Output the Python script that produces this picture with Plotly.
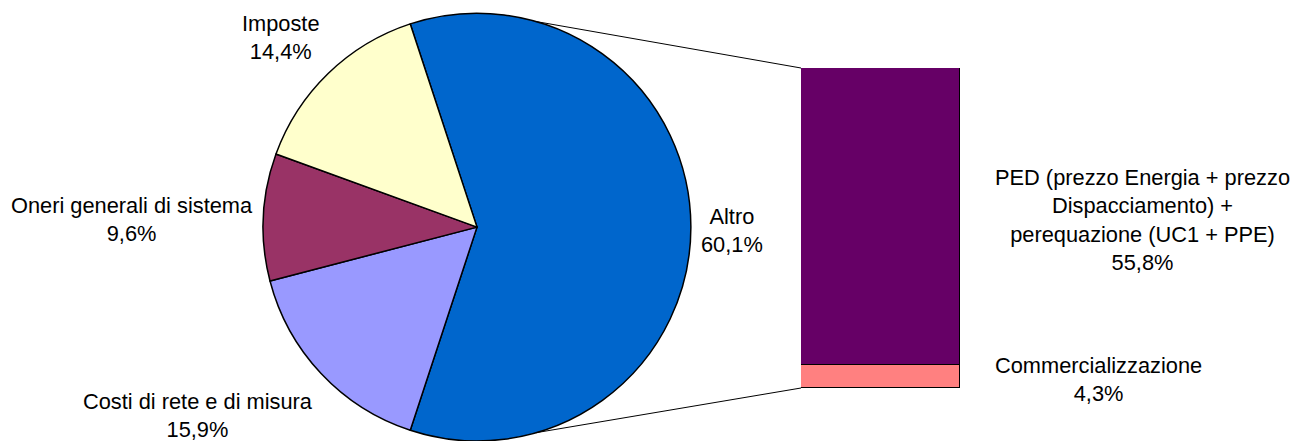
import math
import plotly.graph_objects as go

# ---- data ----
pie_labels = ["Altro", "Costi di rete e di misura", "Oneri generali di sistema", "Imposte"]
pie_values = [60.1, 15.9, 9.6, 14.4]
pie_colors = ["#0066CC", "#9999FF", "#993366", "#FFFFCC"]

bar_labels = ["Commercializzazione", "PED (prezzo Energia + prezzo<br>Dispacciamento) +<br>perequazione (UC1 + PPE)"]
bar_values = [4.3, 55.8]
bar_colors = ["#FF8080", "#660066"]

# ---- layout constants ----
W, H = 1292, 441
FONT = dict(family="Liberation Sans, Arial, sans-serif", size=21.8, color="black")
pie_dom_x = [263 / W, 691 / W]
pie_dom_y = [0.0, 0.97]
bar_dom_x = [801 / W, 960 / W]
bar_dom_y = [(H - 388) / H, (H - 68) / H]


def fmt(v):
    return f"{v:.1f}".replace(".", ",") + "%"


total = sum(pie_values)
rotation = 90 - 180 * pie_values[0] / total

fig = go.Figure()
fig.add_trace(go.Pie(
    labels=pie_labels, values=pie_values, sort=False, direction="clockwise",
    rotation=rotation, textinfo="none", hoverinfo="label+percent",
    marker=dict(colors=pie_colors, line=dict(color="black", width=1.5)),
    domain=dict(x=pie_dom_x, y=pie_dom_y), showlegend=False,
))

for lab, val, col in zip(bar_labels, bar_values, bar_colors):
    fig.add_trace(go.Bar(
        x=[0], y=[val], name=lab, marker=dict(color=col, line=dict(color="black", width=1.5)),
        xaxis="x", yaxis="y", showlegend=False, hoverinfo="y",
    ))

# pie geometry (pixels, from top-left)
pw = (pie_dom_x[1] - pie_dom_x[0]) * W
ph = (pie_dom_y[1] - pie_dom_y[0]) * H
r = min(pw, ph) / 2
cx = (pie_dom_x[0] + pie_dom_x[1]) / 2 * W
cy = H - (pie_dom_y[0] + pie_dom_y[1]) / 2 * H

annotations = []
start = rotation
for lab, val in zip(pie_labels, pie_values):
    span = 360 * val / total
    mid = math.radians(start + span / 2)
    start += span
    s, c = math.sin(mid), math.cos(mid)
    px = cx + 1.04 * r * s
    py = cy - 1.07 * r * c
    xa = "left" if s > 0.3 else ("right" if s < -0.3 else "center")
    ya = "bottom" if c > 0.3 else ("top" if c < -0.3 else "middle")
    annotations.append(dict(
        x=px / W, y=1 - py / H, xref="paper", yref="paper", xanchor=xa, yanchor=ya,
        yshift=-3, text=f"{lab}<br>{fmt(val)}", showarrow=False, font=FONT, align="center",
    ))

cum = 0
for lab, val in zip(bar_labels, bar_values):
    annotations.append(dict(
        x=0.5, y=cum + val / 2, xref="x", yref="y", xanchor="left", yanchor="middle",
        xshift=33, yshift=-3, text=f"{lab}<br>{fmt(val)}", showarrow=False, font=FONT, align="center",
    ))
    cum += val

# connector lines from pie to bar
conn_angle = 74
shapes = []
for sign, by in ((-1, bar_dom_y[1]), (1, bar_dom_y[0])):
    a = math.radians(90 + sign * conn_angle)
    x0 = cx + r * math.sin(a)
    y0 = cy - r * math.cos(a)
    shapes.append(dict(type="line", xref="paper", yref="paper",
                       x0=x0 / W, y0=1 - y0 / H, x1=bar_dom_x[0], y1=by,
                       line=dict(color="black", width=1)))

fig.update_layout(
    width=W, height=H, margin=dict(l=0, r=0, t=0, b=0),
    paper_bgcolor="white", plot_bgcolor="white",
    barmode="stack", bargap=0,
    xaxis=dict(domain=bar_dom_x, range=[-0.5, 0.5], visible=False, fixedrange=True),
    yaxis=dict(domain=bar_dom_y, range=[0, sum(bar_values)], visible=False, fixedrange=True),
    annotations=annotations, shapes=shapes, font=FONT,
)

fig.write_html("out.html")
